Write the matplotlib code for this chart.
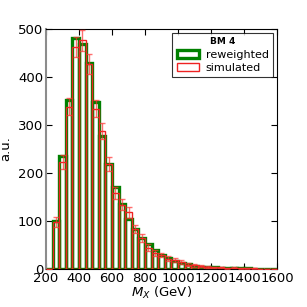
import matplotlib
matplotlib.use("Agg")
import matplotlib.pyplot as plt
import numpy as np

# 40 GeV bins from 200 to 1600 GeV
bin_lo = np.arange(200, 1600, 40)
BIN_W = 40

reweighted = [0, 100, 236, 351, 481, 468, 428, 347, 277, 219, 171, 135, 104,
              84, 65, 51, 40, 30, 22, 17, 12, 10, 7, 5, 4, 3, 2, 2, 1, 1,
              1, 0.5, 0.5, 0.3, 0.3]
simulated = [0, 98, 223, 338, 462, 476, 427, 334, 287, 219, 158, 134, 118,
             83, 65, 44, 33, 29, 21, 19, 14, 9, 8, 6, 4, 3, 3, 1, 2, 1,
             1, 1, 0, 0, 0]
sim_err = [0, 10, 15, 18, 21, 22, 21, 18, 17, 15, 13, 12, 11,
           9, 8, 7, 6, 5, 5, 4, 4, 3, 3, 2, 2, 2, 2, 1, 1, 1,
           1, 1, 0, 0, 0]

fig = plt.figure(figsize=(3.07, 3.07), dpi=100)
ax = fig.add_axes([0.15, 0.124, 0.752, 0.782])

ax.bar(bin_lo, reweighted, width=BIN_W, align="edge", fill=False,
       edgecolor="green", lw=2.4, label="reweighted", zorder=2)
ax.bar(bin_lo, simulated, width=BIN_W, align="edge", fill=False,
       edgecolor="#ee2222", lw=1.0, label="simulated", zorder=3)
centers = bin_lo + BIN_W / 2
ax.errorbar(centers, simulated, yerr=sim_err, fmt="none", ecolor="#ff3333",
            alpha=0.7, elinewidth=1.0, capsize=2, capthick=1.0, zorder=4)

ax.set_xlim(200, 1600)
ax.set_ylim(0, 500)
ax.set_xticks(np.arange(200, 1601, 200))
ax.set_yticks(np.arange(0, 501, 100))
ax.tick_params(direction="in", top=True, right=True, labelsize=9.5, length=4, pad=2)
ax.spines["left"].set_color("0.55")
ax.spines["left"].set_linewidth(1.5)
ax.set_xlabel("$M_X$ (GeV)", fontsize=9.5, labelpad=0)
ax.set_ylabel("a.u.", fontsize=9.5, labelpad=4)

leg = ax.legend(loc="upper right", title="BM 4", fontsize=8, fancybox=False,
                edgecolor="black", handlelength=2.0, handletextpad=0.6,
                borderaxespad=0.35, borderpad=0.4, labelspacing=0.3)
leg.get_title().set_fontsize(6.5)
leg.get_title().set_fontweight("bold")
leg.get_frame().set_linewidth(0.8)

fig.savefig("out.png", dpi=100)
